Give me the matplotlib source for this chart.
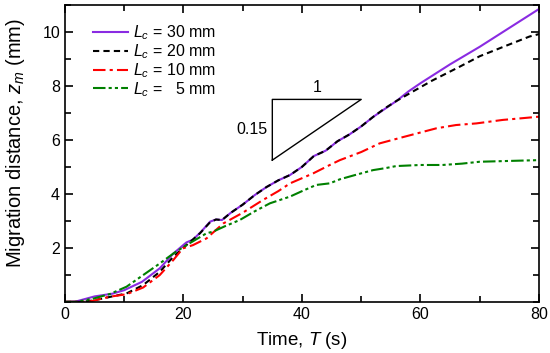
import matplotlib
matplotlib.use("Agg")
import matplotlib.pyplot as plt
from matplotlib.ticker import MultipleLocator

plt.rcParams['font.family'] = ['Liberation Sans', 'DejaVu Sans']
plt.rcParams['mathtext.fontset'] = 'custom'
plt.rcParams['mathtext.rm'] = 'Liberation Sans'
plt.rcParams['mathtext.it'] = 'Liberation Sans:italic'

# L_c = 30 mm
t30 = [0, 2, 5, 8, 10, 13, 16, 18.3, 20.5, 21.6, 23, 24.5, 25.5, 26.5, 28, 30,
       32, 34, 36, 38, 40, 42, 44, 46, 48, 50, 52, 54, 56, 58, 60, 65, 70, 75, 80]
z30 = [0, 0.02, 0.2, 0.3, 0.43, 0.74, 1.24, 1.79, 2.2, 2.3, 2.6, 2.97, 3.05, 3.03, 3.3, 3.6,
       3.95, 4.25, 4.5, 4.7, 5.0, 5.4, 5.6, 5.95, 6.2, 6.5, 6.85, 7.15, 7.45, 7.8, 8.1, 8.8, 9.45, 10.15, 10.85]

# L_c = 20 mm
t20 = [0, 3, 5, 8, 10.4, 13.2, 16, 18.3, 20.5, 22.8, 24.5, 25.5, 26.5, 28, 30,
       32, 34, 36, 38, 40, 42, 44, 46, 48, 50, 52, 54, 56, 58.7, 62, 66.6, 70, 74, 78.4, 80]
z20 = [0, 0, 0.06, 0.2, 0.31, 0.62, 1.11, 1.67, 2.1, 2.54, 2.95, 3.05, 3.03, 3.3, 3.6,
       3.95, 4.25, 4.5, 4.7, 5.0, 5.4, 5.6, 5.95, 6.2, 6.5, 6.85, 7.17, 7.45, 7.79, 8.2, 8.71, 9.1, 9.45, 9.83, 9.92]

# L_c = 10 mm
t10 = [0, 4, 7.6, 10.4, 13.2, 16, 18.3, 19.9, 21.6, 23.9, 26.7, 30, 33.4, 36, 38, 41.9,
       44.7, 46.4, 50, 53.1, 57, 62.7, 66, 69.4, 73.9, 77, 80]
z10 = [0, 0, 0.19, 0.28, 0.53, 0.99, 1.55, 1.98, 2.1, 2.35, 2.9, 3.3, 3.77, 4.1, 4.39, 4.76,
       5.07, 5.25, 5.55, 5.87, 6.1, 6.43, 6.55, 6.61, 6.74, 6.8, 6.86]

# L_c = 5 mm
t5 = [0, 2, 4.8, 7.6, 10.4, 13.2, 16, 18.3, 20.5, 23.9, 25, 27, 29.5, 32, 34.6, 38, 40,
      42.4, 44.7, 46.4, 49, 52, 54, 55.9, 60, 63.7, 67, 70, 75, 80]
z5 = [0, 0, 0.12, 0.29, 0.56, 0.99, 1.42, 1.79, 2.1, 2.54, 2.6, 2.8, 3.03, 3.35, 3.65, 3.9, 4.1,
      4.33, 4.39, 4.54, 4.7, 4.88, 4.95, 5.03, 5.07, 5.07, 5.12, 5.19, 5.22, 5.25]

# slope triangle
tri_t = [35, 35, 50, 35]
tri_z = [5.25, 7.5, 7.5, 5.25]

fig = plt.figure(figsize=(5.5, 3.53), dpi=100)
ax = fig.add_axes([0.118, 0.145, 0.862, 0.841])

lw = 1.5
ax.plot(t30, z30, color='#8a2be2', lw=lw, label='$L_c$ = 30 mm')
ax.plot(t20, z20, color='black', lw=lw, dashes=(3, 2), label='$L_c$ = 20 mm')
ax.plot(t10, z10, color='red', lw=lw, dashes=(6, 2, 1.5, 2), label='$L_c$ = 10 mm')
ax.plot(t5, z5, color='green', lw=lw, dashes=(6, 1.5, 1.5, 1.5, 1.5, 1.5), label='$L_c$ =   5 mm')

ax.plot(tri_t, tri_z, color='black', lw=1)
ax.text(42.5, 7.65, '1', ha='center', va='bottom', fontsize=11.5)
ax.text(34.2, 6.4, '0.15', ha='right', va='center', fontsize=11.5)

ax.set_xlim(0, 80)
ax.set_ylim(0, 11)
ax.xaxis.set_major_locator(MultipleLocator(20))
ax.xaxis.set_minor_locator(MultipleLocator(10))
ax.yaxis.set_minor_locator(MultipleLocator(1))
ax.set_yticks([2, 4, 6, 8, 10])
ax.tick_params(which='both', direction='in', top=True, right=True, labelsize=11.5, width=1.2)
ax.tick_params(which='major', length=6)
ax.tick_params(which='minor', length=4)
for s in ax.spines.values():
    s.set_linewidth(1.2)

ax.set_xlabel('Time, $T$ (s)', fontsize=13.5, labelpad=6)
ax.set_ylabel('Migration distance, $z_m$ (mm)', fontsize=14.5)
ax.yaxis.set_label_coords(-0.08, 0.535)

ax.legend(loc='upper left', frameon=False, fontsize=11.5, handlelength=2.2,
          handletextpad=0.3, labelspacing=0.0, borderaxespad=0.0,
          bbox_to_anchor=(0.046, 0.958))

fig.savefig('out.png', dpi=100)
